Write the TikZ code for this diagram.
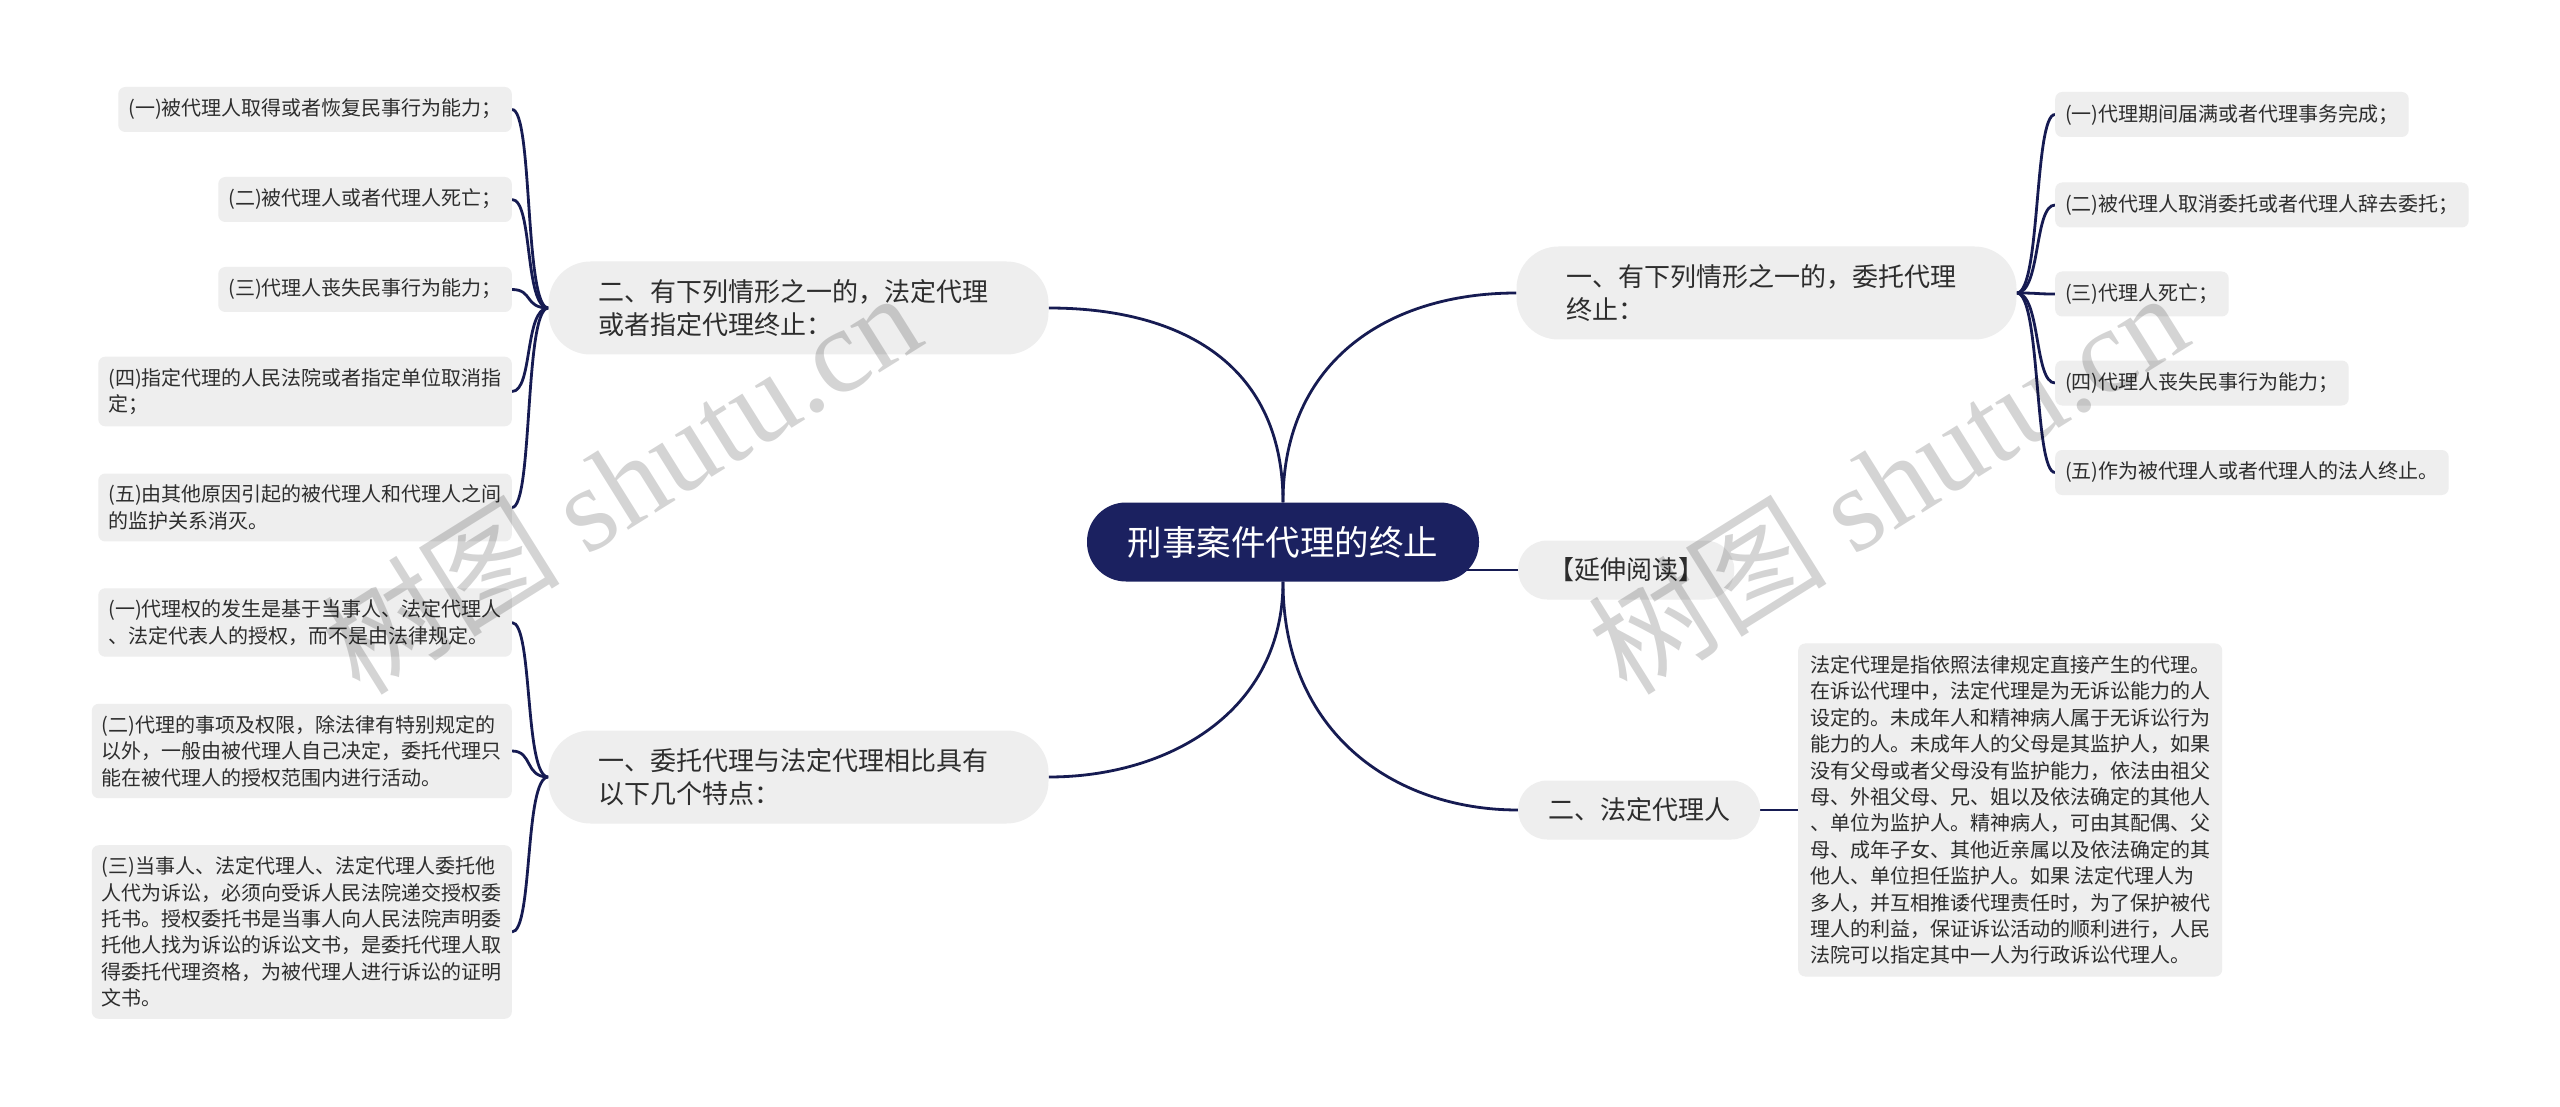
\documentclass[tikz,border=0pt]{standalone}
\usepackage{fontspec}
\setmainfont{Noto Sans CJK SC}
\newfontfamily\wmserif{Liberation Serif}
\definecolor{navy}{RGB}{27,33,96}
\definecolor{linec}{RGB}{22,27,82}
\definecolor{boxg}{RGB}{238,238,238}
\definecolor{txt}{RGB}{45,45,45}
\pgfdeclarelayer{paper}
\pgfdeclarelayer{back}
\pgfsetlayers{paper,back,main}
\begin{document}
\begin{tikzpicture}[x=1pt,y=-1pt,
  conn/.style={draw=linec, line width=2.8pt},
  item/.style={fill=boxg, rounded corners=7pt, inner xsep=10pt, inner ysep=11.5pt, align=left, text=txt, font=\fontsize{20}{26.4}\selectfont, minimum height=45pt},
  big/.style={fill=boxg, rounded corners=42pt, inner xsep=50pt, inner ysep=16pt, align=left, text width=400pt, text=txt, font=\fontsize{26}{33}\selectfont, minimum height=93pt},
  bigone/.style={fill=boxg, rounded corners=29pt, inner xsep=30pt, text=txt, font=\fontsize{26}{33}\selectfont, minimum height=59pt},
  wm/.style={text=black, opacity=0.17, rotate=32, anchor=base west, font=\fontsize{120}{120}\selectfont, inner sep=0pt}
]
\begin{pgfonlayer}{paper}
\fill[white] (0,0) rectangle (2560,1107);
\end{pgfonlayer}
\useasboundingbox (0,0) rectangle (2560,1107);

% root
\node[fill=navy, text=white, rounded corners=39pt, minimum width=392pt, minimum height=79pt, inner sep=0pt, font=\fontsize{34.5}{34.5}\selectfont] (root) at (1283,542) {刑事案件代理的终止};

% main branches
\node[big] (L1) at (798.5,308) {二、有下列情形之一的，法定代理\\或者指定代理终止：};
\node[big] (L2) at (798.5,777) {一、委托代理与法定代理相比具有\\以下几个特点：};
\node[big] (R1) at (1766.5,293) {一、有下列情形之一的，委托代理\\终止：};
\node[bigone, anchor=west] (R2) at (1518,570) {【延伸阅读】};
\node[bigone, anchor=west] (R3) at (1518,810) {二、法定代理人};

% left top items
\node[item, anchor=east] (L1a) at (512,109.5) {(一)被代理人取得或者恢复民事行为能力；};
\node[item, anchor=east] (L1b) at (512,199.5) {(二)被代理人或者代理人死亡；};
\node[item, anchor=east] (L1c) at (512,289.5) {(三)代理人丧失民事行为能力；};
\node[item, anchor=east] (L1d) at (512,391.5) {(四)指定代理的人民法院或者指定单位取消指\\定；};
\node[item, anchor=east] (L1e) at (512,507.5) {(五)由其他原因引起的被代理人和代理人之间\\的监护关系消灭。};

% left bottom items
\node[item, anchor=east] (L2a) at (512,622.5) {(一)代理权的发生是基于当事人、法定代理人\\、法定代表人的授权，而不是由法律规定。};
\node[item, anchor=east] (L2b) at (512,751) {(二)代理的事项及权限，除法律有特别规定的\\以外，一般由被代理人自己决定，委托代理只\\能在被代理人的授权范围内进行活动。};
\node[item, anchor=east] (L2c) at (512,932) {(三)当事人、法定代理人、法定代理人委托他\\人代为诉讼，必须向受诉人民法院递交授权委\\托书。授权委托书是当事人向人民法院声明委\\托他人找为诉讼的诉讼文书，是委托代理人取\\得委托代理资格，为被代理人进行诉讼的证明\\文书。};

% right items
\node[item, anchor=west] (R1a) at (2055,114.5) {(一)代理期间届满或者代理事务完成；};
\node[item, anchor=west] (R1b) at (2055,205) {(二)被代理人取消委托或者代理人辞去委托；};
\node[item, anchor=west] (R1c) at (2055,294) {(三)代理人死亡；};
\node[item, anchor=west] (R1d) at (2055,383) {(四)代理人丧失民事行为能力；};
\node[item, anchor=west] (R1e) at (2055,472.5) {(五)作为被代理人或者代理人的法人终止。};

% text box
\node[item, anchor=west, inner xsep=12pt, inner ysep=12pt] (R3t) at (1798,810) {法定代理是指依照法律规定直接产生的代理。\\在诉讼代理中，法定代理是为无诉讼能力的人\\设定的。未成年人和精神病人属于无诉讼行为\\能力的人。未成年人的父母是其监护人，如果\\没有父母或者父母没有监护能力，依法由祖父\\母、外祖父母、兄、姐以及依法确定的其他人\\、单位为监护人。精神病人，可由其配偶、父\\母、成年子女、其他近亲属以及依法确定的其\\他人、单位担任监护人。如果 法定代理人为\\多人，并互相推诿代理责任时，为了保护被代\\理人的利益，保证诉讼活动的顺利进行，人民\\法院可以指定其中一人为行政诉讼代理人。};

\begin{pgfonlayer}{back}
% root connectors
\draw[conn] (root.north) .. controls +(0,-143) and +(126,0) .. (L1.east);
\draw[conn] (root.north) .. controls +(0,-143) and +(-126,0) .. (R1.west);
\draw[conn] (root.south) .. controls +(0,130) and +(120,0) .. (L2.east);
\draw[conn] (root.south) .. controls +(0,150) and +(-125,0) .. (R3.west);
\draw[conn] (R2.west) -- (R2.west -| root.center);
\draw[conn] (R3.east) -- (R3t.west);
% left top
\foreach \n in {L1a,L1b,L1c,L1d,L1e}
  \draw[conn] (L1.west) .. controls +(-24,0) and +(21,0) .. (\n.east);
% left bottom
\foreach \n in {L2a,L2b,L2c}
  \draw[conn] (L2.west) .. controls +(-24,0) and +(21,0) .. (\n.east);
% right
\foreach \n in {R1a,R1b,R1c,R1d,R1e}
  \draw[conn] (R1.east) .. controls +(24,0) and +(-21,0) .. (\n.west);
\end{pgfonlayer}

% watermarks
\node[wm] (wm1) at (360,698) {树图 {\wmserif shutu.cn}};
\node[wm] (wm2) at (1627,698) {树图 {\wmserif shutu.cn}};
\end{tikzpicture}
\end{document}
